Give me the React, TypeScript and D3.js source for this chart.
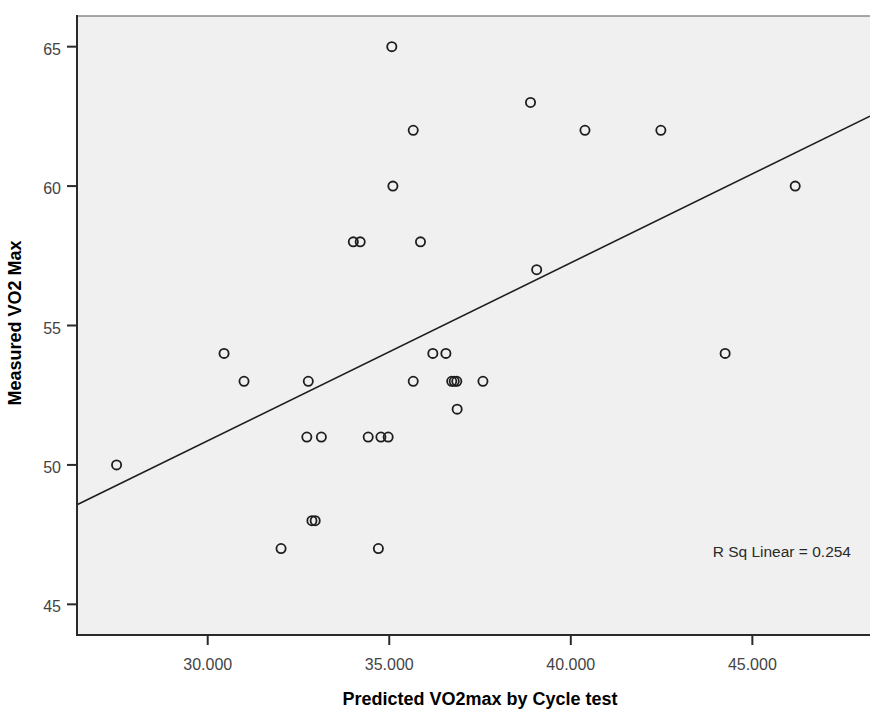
import React from 'react';
import * as d3 from 'd3';

// predicted (cycle test) vs measured VO2max
const predicted = [
  27.49, 30.45, 31.0, 32.02, 32.73, 32.77, 32.87, 32.96, 33.13, 34.01, 34.2,
  34.42, 34.7, 34.77, 34.97, 35.07, 35.1, 35.66, 35.66, 35.86, 36.2, 36.56,
  36.72, 36.79, 36.86, 36.87, 37.58, 38.89, 39.06, 40.39, 42.48, 44.25, 46.18,
];
const measured = [
  50, 54, 53, 47, 51, 53, 48, 48, 51, 58, 58,
  51, 47, 51, 51, 65, 60, 53, 62, 58, 54, 54,
  53, 53, 53, 52, 53, 63, 57, 62, 62, 54, 60,
];
const xTicks = [30, 35, 40, 45];
const yTicks = [45, 50, 55, 60, 65];
const rSquared = 0.254;
const xTitle = 'Predicted VO2max by Cycle test';
const yTitle = 'Measured VO2 Max';

const W = 870;
const H = 709;
const plot = { left: 77, right: 870, top: 16, bottom: 635 };
const font = "Arial, 'Liberation Sans', sans-serif";

export default function App() {
  const x = d3.scaleLinear().domain([26.4, 48.24]).range([plot.left, plot.right]);
  const y = d3.scaleLinear().domain([43.9, 66.1]).range([plot.bottom, plot.top]);

  // least squares fit
  const mx = d3.mean(predicted)!;
  const my = d3.mean(measured)!;
  let sxy = 0;
  let sxx = 0;
  predicted.forEach((p, i) => {
    sxy += (p - mx) * (measured[i] - my);
    sxx += (p - mx) * (p - mx);
  });
  const slope = sxy / sxx;
  const intercept = my - slope * mx;
  const [x0, x1] = x.domain();
  const fitLine = d3.line<number>()
    .x((d) => x(d))
    .y((d) => y(intercept + slope * d));

  const fmt = d3.format('.3f');

  return (
    <svg
      width={W}
      height={H}
      style={{ position: 'absolute', left: 0, top: 0, background: '#fff', overflow: 'hidden', display: 'block' }}
    >
      <rect
        x={plot.left}
        y={plot.top}
        width={plot.right - plot.left}
        height={plot.bottom - plot.top}
        fill="#f0f0f0"
      />
      <line x1={plot.left} x2={plot.right} y1={plot.top} y2={plot.top} stroke="#8a8a8a" strokeWidth={1.5} />

      <path d={fitLine([x0, x1]) || ''} fill="none" stroke="#1e1e1e" strokeWidth={1.6} />
      {predicted.map((p, i) => (
        <circle
          key={i}
          cx={x(p)}
          cy={y(measured[i])}
          r={4.6}
          fill="none"
          stroke="#1e1e1e"
          strokeWidth={1.8}
        />
      ))}

      <text x={851} y={557} textAnchor="end" fontFamily={font} fontSize={15.5} fill="#2a2a2a">
        R Sq Linear = {rSquared.toFixed(3)}
      </text>

      {/* axes */}
      <line x1={plot.left} x2={plot.left} y1={plot.top - 1} y2={plot.bottom + 1} stroke="#2a2a2a" strokeWidth={2} />
      <line x1={plot.left - 1} x2={plot.right} y1={plot.bottom} y2={plot.bottom} stroke="#2a2a2a" strokeWidth={2} />

      {yTicks.map((t) => (
        <g key={t}>
          <line x1={plot.left - 10} x2={plot.left} y1={y(t)} y2={y(t)} stroke="#2a2a2a" strokeWidth={2} />
          <text x={61} y={y(t) + 8} textAnchor="end" fontFamily={font} fontSize={16} fill="#444">
            {t}
          </text>
        </g>
      ))}
      {xTicks.map((t) => (
        <g key={t}>
          <line x1={x(t)} x2={x(t)} y1={plot.bottom} y2={plot.bottom + 10} stroke="#2a2a2a" strokeWidth={2} />
          <text x={x(t)} y={670} textAnchor="middle" fontFamily={font} fontSize={16} fill="#444">
            {fmt(t)}
          </text>
        </g>
      ))}

      <text x={480} y={705} textAnchor="middle" fontFamily={font} fontSize={18} fontWeight="bold" fill="#000">
        {xTitle}
      </text>
      <text
        transform={`translate(21,${323}) rotate(-90)`}
        textAnchor="middle"
        fontFamily={font}
        fontSize={18}
        fontWeight="bold"
        fill="#000"
      >
        {yTitle}
      </text>
    </svg>
  );
}
